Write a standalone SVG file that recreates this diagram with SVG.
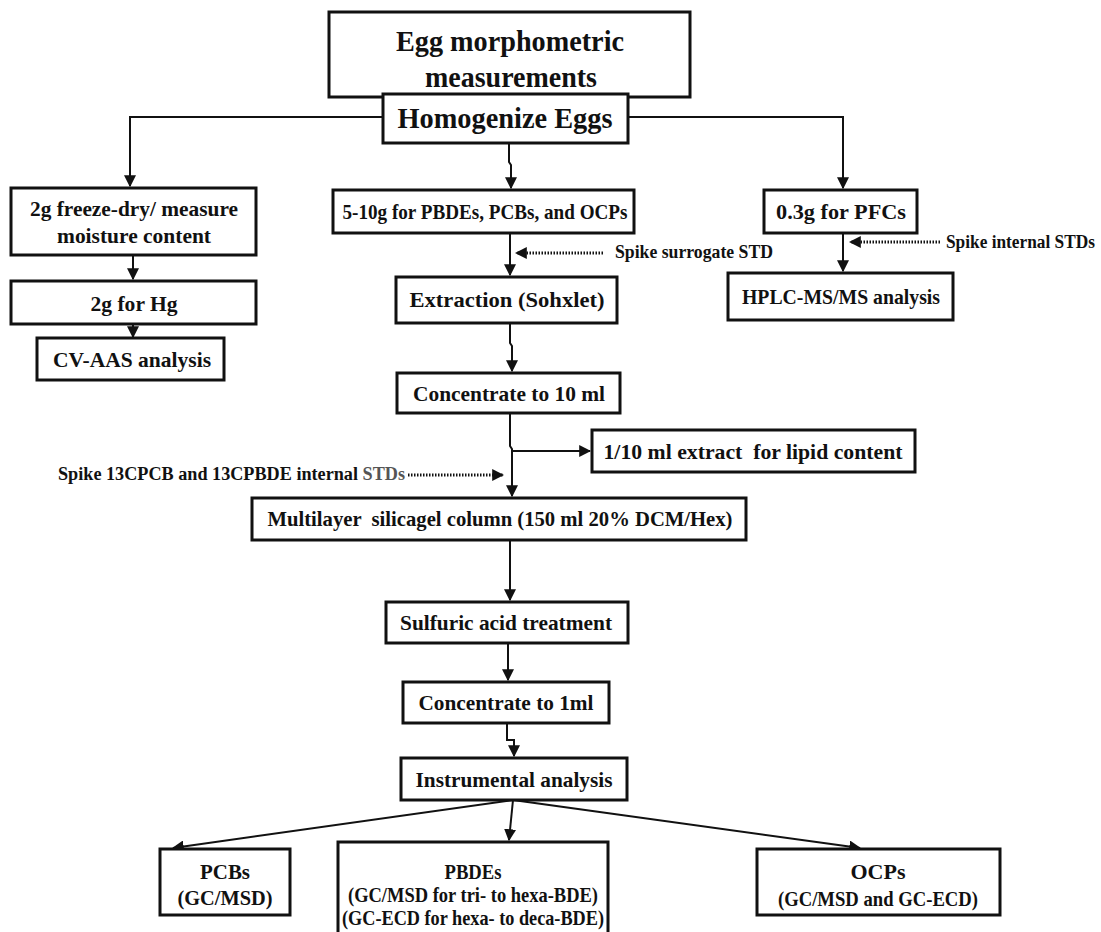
<svg xmlns="http://www.w3.org/2000/svg" width="1101" height="932" viewBox="0 0 1101 932">
<style>
.box{fill:#fff;stroke:#111;stroke-width:3}
.t{font-family:"Liberation Serif","Times New Roman",serif;font-weight:bold;fill:#111;text-anchor:middle;font-size:22px}
.big{font-size:29px}
.sm{font-size:18px;text-anchor:start}
.c{fill:none;stroke:#111;stroke-width:2}
.d{fill:none;stroke:#111;stroke-width:3;stroke-dasharray:1.5 1.5}
</style>
<defs>
<marker id="ah" viewBox="0 0 10 10" refX="9" refY="5" markerWidth="6" markerHeight="6" orient="auto" markerUnits="strokeWidth">
<path d="M0,0 L10,5 L0,10 z" fill="#111"/>
</marker>
<marker id="ahd" viewBox="0 0 10 10" refX="9" refY="5" markerWidth="4" markerHeight="4" orient="auto" markerUnits="strokeWidth">
<path d="M0,0 L10,5 L0,10 z" fill="#111"/>
</marker>
</defs>
<rect width="1101" height="932" fill="#fff"/>
<g id="connectors">
<path class="c" d="M383,117 H130 V186" marker-end="url(#ah)"/>
<path class="c" d="M628,117 H843 V188" marker-end="url(#ah)"/>
<path class="c" d="M509,143 V162 L511,165 V188" marker-end="url(#ah)"/>
<path class="c" d="M133,255 V279" marker-end="url(#ah)"/>
<path class="c" d="M133,324 V337" marker-end="url(#ah)"/>
<path class="c" d="M510,233 V275" marker-end="url(#ah)"/>
<path class="d" d="M603,253 H516" marker-end="url(#ahd)"/>
<path class="c" d="M843,233 V271" marker-end="url(#ah)"/>
<path class="d" d="M940,242 H850" marker-end="url(#ahd)"/>
<path class="c" d="M510,323 V343 L512,346 V371" marker-end="url(#ah)"/>
<path class="c" d="M510,413 V446 L512,449 V496" marker-end="url(#ah)"/>
<path class="c" d="M512,451 H590" marker-end="url(#ah)"/>
<path class="d" d="M408,475 H503" marker-end="url(#ahd)"/>
<path class="c" d="M510,540 V600" marker-end="url(#ah)"/>
<path class="c" d="M508,643 V680" marker-end="url(#ah)"/>
<path class="c" d="M507,723 V740 H514 V756" marker-end="url(#ah)"/>
<path class="c" d="M513,800 L173,848" marker-end="url(#ah)"/>
<path class="c" d="M513,800 L509,840" marker-end="url(#ah)"/>
<path class="c" d="M513,800 L860,848" marker-end="url(#ah)"/>
</g>
<g id="egg"><rect class="box" x="329" y="12" width="361" height="85"/>
<text class="t big" x="510" y="51" textLength="228" lengthAdjust="spacingAndGlyphs">Egg morphometric</text><text class="t big" x="511" y="87" textLength="172" lengthAdjust="spacingAndGlyphs">measurements</text></g>
<g id="homogenize"><rect class="box" x="383" y="94" width="245" height="49"/>
<text class="t big" x="505" y="128" textLength="215" lengthAdjust="spacingAndGlyphs">Homogenize Eggs</text></g>
<g id="freeze"><rect class="box" x="11" y="188" width="245" height="67"/>
<text class="t" x="134" y="216" textLength="208" lengthAdjust="spacingAndGlyphs">2g freeze-dry/ measure</text><text class="t" x="134" y="243" textLength="154" lengthAdjust="spacingAndGlyphs">moisture content</text></g>
<g id="hg"><rect class="box" x="11" y="281" width="245" height="43"/>
<text class="t" x="134" y="311" textLength="87" lengthAdjust="spacingAndGlyphs">2g for Hg</text></g>
<g id="cvaas"><rect class="box" x="37" y="338" width="187" height="42"/>
<text class="t" x="132" y="367" textLength="158" lengthAdjust="spacingAndGlyphs">CV-AAS analysis</text></g>
<g id="pbdes510"><rect class="box" x="333" y="190" width="301" height="43"/>
<text class="t" x="485" y="219" textLength="285" lengthAdjust="spacingAndGlyphs">5-10g for PBDEs, PCBs, and OCPs</text></g>
<g id="pfcs"><rect class="box" x="764" y="190" width="153" height="43"/>
<text class="t" x="841" y="219" textLength="130" lengthAdjust="spacingAndGlyphs">0.3g for PFCs</text></g>
<g id="spike1"><text class="t sm" x="615" y="258" textLength="158" lengthAdjust="spacingAndGlyphs">Spike surrogate STD</text></g>
<g id="spike2"><text class="t sm" x="946" y="248" textLength="149" lengthAdjust="spacingAndGlyphs">Spike internal STDs</text></g>
<g id="extraction"><rect class="box" x="396" y="277" width="221" height="46"/>
<text class="t" x="507" y="307" textLength="195" lengthAdjust="spacingAndGlyphs">Extraction (Sohxlet)</text></g>
<g id="hplc"><rect class="box" x="728" y="273" width="225" height="47"/>
<text class="t" x="841" y="304" textLength="198" lengthAdjust="spacingAndGlyphs">HPLC-MS/MS analysis</text></g>
<g id="conc10"><rect class="box" x="397" y="373" width="223" height="40"/>
<text class="t" x="509" y="401" textLength="192" lengthAdjust="spacingAndGlyphs">Concentrate to 10 ml</text></g>
<g id="lipid"><rect class="box" x="592" y="430" width="323" height="42"/>
<text class="t" x="753" y="459" textLength="299" lengthAdjust="spacingAndGlyphs" xml:space="preserve">1/10 ml extract  for lipid content</text></g>
<g id="spike3"><text class="t sm" x="58" y="480" textLength="347" lengthAdjust="spacingAndGlyphs">Spike 13CPCB and 13CPBDE internal <tspan fill="#555">STDs</tspan></text></g>
<g id="multilayer"><rect class="box" x="252" y="498" width="494" height="42"/>
<text class="t" x="500" y="526" textLength="465" lengthAdjust="spacingAndGlyphs" xml:space="preserve">Multilayer  silicagel column (150 ml 20% DCM/Hex)</text></g>
<g id="sulfuric"><rect class="box" x="386" y="602" width="242" height="41"/>
<text class="t" x="506" y="630" textLength="212" lengthAdjust="spacingAndGlyphs">Sulfuric acid treatment</text></g>
<g id="conc1"><rect class="box" x="403" y="682" width="206" height="41"/>
<text class="t" x="506" y="710" textLength="175" lengthAdjust="spacingAndGlyphs">Concentrate to 1ml</text></g>
<g id="instrumental"><rect class="box" x="401" y="758" width="226" height="42"/>
<text class="t" x="514" y="787" textLength="197" lengthAdjust="spacingAndGlyphs">Instrumental analysis</text></g>
<g id="pcbs"><rect class="box" x="160" y="849" width="130" height="66"/>
<text class="t" x="225" y="879" textLength="50" lengthAdjust="spacingAndGlyphs">PCBs</text><text class="t" x="225" y="905" textLength="95" lengthAdjust="spacingAndGlyphs">(GC/MSD)</text></g>
<g id="pbdes"><rect class="box" x="338" y="842" width="270" height="100"/>
<text class="t" x="473" y="879" textLength="57" lengthAdjust="spacingAndGlyphs">PBDEs</text><text class="t" x="473" y="902" textLength="250" lengthAdjust="spacingAndGlyphs">(GC/MSD for tri- to hexa-BDE)</text><text class="t" x="473" y="925" textLength="262" lengthAdjust="spacingAndGlyphs">(GC-ECD for hexa- to deca-BDE)</text></g>
<g id="ocps"><rect class="box" x="757" y="849" width="243" height="66"/>
<text class="t" x="878" y="879" textLength="55" lengthAdjust="spacingAndGlyphs">OCPs</text><text class="t" x="878" y="906" textLength="200" lengthAdjust="spacingAndGlyphs">(GC/MSD and GC-ECD)</text></g>
</svg>
